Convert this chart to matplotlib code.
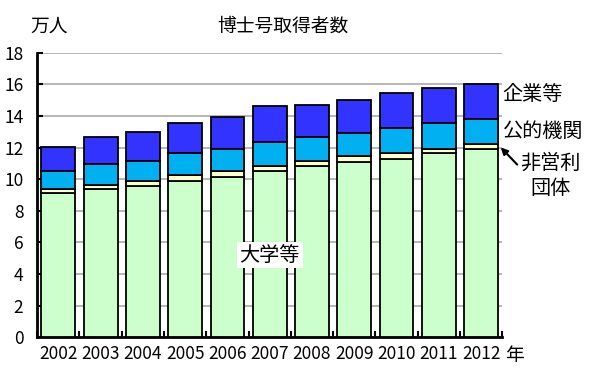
import matplotlib
matplotlib.use("Agg")
import matplotlib.pyplot as plt
import numpy as np

plt.rcParams['font.family'] = ['Noto Sans CJK JP', 'DejaVu Sans']

# Data (万人)
years = ["2002", "2003", "2004", "2005", "2006", "2007", "2008", "2009", "2010", "2011", "2012"]
university = [9.11, 9.36, 9.57, 9.91, 10.15, 10.53, 10.83, 11.12, 11.31, 11.65, 11.90]
nonprofit = [0.25, 0.30, 0.30, 0.34, 0.36, 0.30, 0.31, 0.32, 0.34, 0.29, 0.34]
public = [1.15, 1.31, 1.27, 1.38, 1.43, 1.52, 1.53, 1.50, 1.59, 1.62, 1.55]
company = [1.56, 1.72, 1.85, 1.90, 1.97, 2.29, 2.03, 2.08, 2.24, 2.22, 2.26]

fig = plt.figure(figsize=(6, 3.75), dpi=100)
ax = fig.add_axes([0.062, 0.101, 0.775, 0.758])

x = np.arange(len(years))
w = 0.8
kw = dict(width=w, edgecolor="black", linewidth=1.3, zorder=3)
b0 = np.array(university)
b1 = b0 + np.array(nonprofit)
b2 = b1 + np.array(public)
ax.bar(x, university, color="#CCFFCC", **kw)
ax.bar(x, nonprofit, bottom=b0, color="#FFFFCC", **kw)
ax.bar(x, public, bottom=b1, color="#00B0F0", **kw)
ax.bar(x, company, bottom=b2, color="#3333FF", **kw)

ax.set_xlim(-0.5, len(years) - 0.5)
ax.set_ylim(0, 18)
ax.set_yticks(range(0, 19, 2))
ax.yaxis.grid(True, color="#aaaaaa", linewidth=1.2, zorder=0)
ax.set_axisbelow(True)

ax.set_xticks(x)
ax.set_xticklabels(years, fontsize=12.5)
ax.set_xticks(np.arange(len(years) + 1) - 0.5, minor=True)
ax.tick_params(axis="x", which="major", length=0, pad=6)
ax.tick_params(axis="x", which="minor", direction="in", length=4, width=1.5)
ax.tick_params(axis="y", direction="in", length=4, width=1.5, labelsize=12.5, pad=10)

for s in ["top", "right"]:
    ax.spines[s].set_visible(False)
for s in ["left", "bottom"]:
    ax.spines[s].set_linewidth(2)

fig.text(0.081, 0.929, "万人", fontsize=13.5, ha="center", va="center")
fig.text(0.471, 0.929, "博士号取得者数", fontsize=13.5, ha="center", va="center")
fig.text(0.857, 0.053, "年", fontsize=13.5, ha="center", va="center")

ax.text(5.0, 5.2, "大学等", fontsize=14.5, ha="center", va="center",
        bbox=dict(facecolor="white", edgecolor="none", pad=2), zorder=5)

last = len(years) - 1
fig.text(0.888, 0.747, "企業等", fontsize=14.5, ha="center", va="center")
fig.text(0.906, 0.649, "公的機関", fontsize=14.5, ha="center", va="center")
fig.text(0.917, 0.531, "非営利\n団体", fontsize=14.5, ha="center", va="center", linespacing=1.25)
ax.annotate("", xy=(last + w / 2 + 0.02, b1[last] - 0.1), xytext=(10.9, 10.8),
            arrowprops=dict(arrowstyle="-|>", color="black", lw=1.5), annotation_clip=False)

fig.savefig("out.png", dpi=100)
